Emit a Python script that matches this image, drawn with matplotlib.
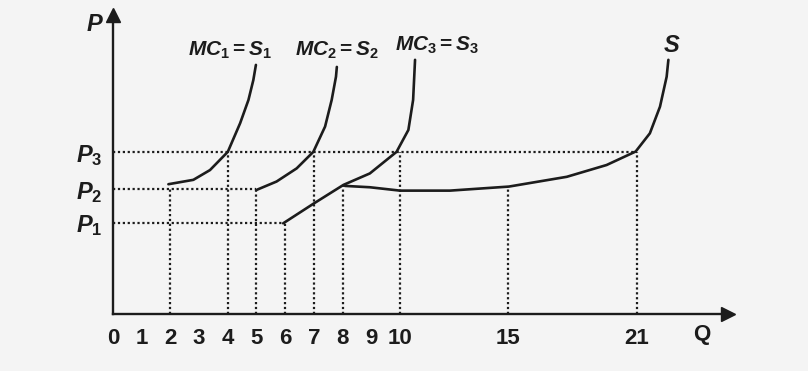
import numpy as np
import matplotlib
matplotlib.use("Agg")
import matplotlib.pyplot as plt

# Data
q_ticks = [0, 1, 2, 3, 4, 5, 6, 7, 8, 9, 10, 15, 21]
p_levels = [2.7, 3.7, 4.8]          # P1, P2, P3
p_labels = ["$P_1$", "$P_2$", "$P_3$"]

mc1_q = [1.93, 2.8, 3.38, 4.0, 4.43, 4.72, 4.89, 4.98]
mc1_p = [3.85, 3.98, 4.27, 4.81, 5.66, 6.35, 6.94, 7.39]

mc2_q = [5.0, 5.7, 6.4, 6.98, 7.39, 7.62, 7.77, 7.8]
mc2_p = [3.68, 3.93, 4.32, 4.81, 5.56, 6.35, 7.04, 7.33]

mc3_q = [5.93, 7.0, 8.03, 8.95, 9.88, 10.39, 10.61, 10.7]
mc3_p = [2.69, 3.28, 3.83, 4.17, 4.81, 5.46, 6.35, 7.54]

s_q = [8.08, 8.95, 10.0, 12.32, 15.06, 17.75, 19.6, 20.95, 21.61, 22.08, 22.39, 22.47]
s_p = [3.80, 3.76, 3.66, 3.66, 3.78, 4.07, 4.42, 4.82, 5.36, 6.15, 7.04, 7.54]

# dotted guides
h_ends = [6, 5, 21]                 # where P1, P2, P3 guides stop
v_q = [2, 4, 5, 6, 7, 8, 10, 15, 21]
v_top = [3.7, 4.8, 3.7, 2.7, 4.8, 3.8, 4.8, 3.78, 4.8]

plt.rcParams["font.family"] = ["Liberation Sans", "DejaVu Sans"]
plt.rcParams["font.weight"] = "bold"
plt.rcParams["mathtext.fontset"] = "custom"
plt.rcParams["mathtext.rm"] = "Liberation Sans:bold"
plt.rcParams["mathtext.it"] = "Liberation Sans:italic:bold"

ink = "#1c1c1c"

# the Q axis is compressed after 10
def fwd(q):
    q = np.asarray(q, dtype=float)
    return np.where(q <= 10, q, 10 + (q - 10) * 0.75)

def inv(f):
    f = np.asarray(f, dtype=float)
    return np.where(f <= 10, f, 10 + (f - 10) / 0.75)

fig = plt.figure(figsize=(8.08, 3.71), dpi=100, facecolor="#f4f4f4")
ax = fig.add_axes([113 / 808, 57 / 371, 615 / 808, 299 / 371])
ax.set_facecolor("none")
ax.set_xscale("function", functions=(fwd, inv))
ax.set_xlim(0, 25.24)
ax.set_ylim(0, 8.87)

for sp in ["top", "right"]:
    ax.spines[sp].set_visible(False)
for sp in ["left", "bottom"]:
    ax.spines[sp].set_linewidth(1.7)
    ax.spines[sp].set_color(ink)

# arrow heads
ax.plot([25.24], [0], marker=">", ms=10, color=ink, clip_on=False)
ax.plot([0], [8.87], marker="^", ms=10, color=ink, clip_on=False)

dot = (0, (1, 1.2))
for p, e in zip(p_levels, h_ends):
    ax.plot([0, e], [p, p], ls=dot, lw=1.6, color=ink)
for q, t in zip(v_q, v_top):
    ax.plot([q, q], [0, t], ls=dot, lw=1.6, color=ink)

for xs, ys in [(mc1_q, mc1_p), (mc2_q, mc2_p), (mc3_q, mc3_p), (s_q, s_p)]:
    ax.plot(xs, ys, color=ink, lw=1.9, solid_capstyle="round")

ax.set_xticks(q_ticks)
ax.set_xticklabels([str(q) for q in q_ticks])
ax.set_yticks(p_levels)
ax.set_yticklabels(p_labels)
ax.tick_params(axis="x", length=0, pad=10, labelsize=16, colors=ink)
ax.tick_params(axis="y", length=0, pad=8, labelsize=17, colors=ink)
ax.xaxis.set_minor_locator(matplotlib.ticker.NullLocator())

ax.text(-0.63, 8.58, "$P$", fontsize=17, ha="center", va="center", color=ink, clip_on=False)
ax.text(24.03, -0.62, "Q", fontsize=16, ha="center", va="center", color=ink, clip_on=False)
ax.text(4.08, 7.83, "$MC_1 = S_1$", fontsize=15, ha="center", va="center", color=ink)
ax.text(7.8, 7.83, "$MC_2 = S_2$", fontsize=15, ha="center", va="center", color=ink)
ax.text(11.72, 7.98, "$MC_3 = S_3$", fontsize=15, ha="center", va="center", color=ink)
ax.text(22.64, 7.98, "$S$", fontsize=17, ha="center", va="center", color=ink)

fig.savefig("out.png", dpi=100, facecolor=fig.get_facecolor())
